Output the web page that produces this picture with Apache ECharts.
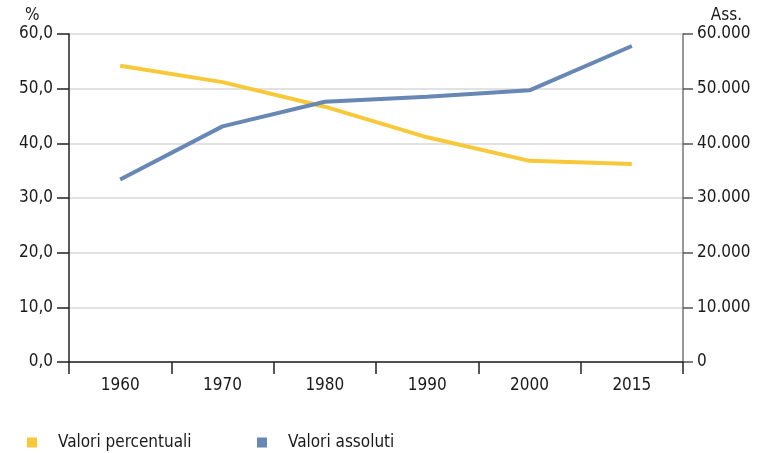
<!DOCTYPE html>
<html><head><meta charset="utf-8">
<script src="https://cdn.jsdelivr.net/npm/echarts@6/dist/echarts.min.js"></script>
<style>html,body{margin:0;padding:0;background:#fff}#c{width:758px;height:453px}</style>
</head><body><div id="c"></div>
<script>
const categories = ['1960','1970','1980','1990','2000','2015'];
const valoriPercentuali = [54.2, 51.2, 46.7, 41.1, 36.8, 36.2];
const valoriAssoluti = [33400, 43100, 47600, 48500, 49700, 57800];
const seriesNames = ['Valori percentuali', 'Valori assoluti'];
const leftAxisTitle = '%';
const rightAxisTitle = 'Ass.';

const FONT = '"Liberation Sans Narrow", "DejaVu Sans Condensed", "Roboto", sans-serif';
const YELLOW = '#f7c93a';
const BLUE = '#6787b4';
const chart = echarts.init(document.getElementById('c'));
chart.setOption({
  animation: false,
  textStyle: { fontFamily: FONT },
  grid: { left: 69, right: 75, top: 34, bottom: 91 },
  legend: [
    { data: [seriesNames[0]], left: 22, top: 429, icon: 'rect', itemWidth: 10, itemHeight: 10,
      textStyle: { fontFamily: FONT, fontSize: 17, color: '#1a1a1a', padding: [0, 0, 0, 16] } },
    { data: [seriesNames[1]], left: 252, top: 429, icon: 'rect', itemWidth: 10, itemHeight: 10,
      textStyle: { fontFamily: FONT, fontSize: 17, color: '#1a1a1a', padding: [0, 0, 0, 16] } }
  ],
  graphic: [
    { type: 'text', left: 25, top: 7, style: { text: leftAxisTitle, font: '17px ' + FONT, fill: '#1a1a1a' } },
    { type: 'text', right: 16, top: 7, style: { text: rightAxisTitle, font: '17px ' + FONT, fill: '#1a1a1a' } }
  ],
  xAxis: {
    type: 'category', data: categories, boundaryGap: true,
    axisLine: { lineStyle: { color: '#222', width: 1.5 } },
    axisTick: { show: true, length: 12, inside: false, lineStyle: { color: '#222', width: 1.5 } },
    axisLabel: { color: '#1a1a1a', fontSize: 17, fontFamily: FONT, margin: 15 }
  },
  yAxis: [
    { type: 'value', min: 0, max: 60, interval: 10, position: 'left',
      axisLine: { show: true, lineStyle: { color: '#222', width: 1.5 } },
      axisTick: { show: true, length: 12, lineStyle: { color: '#222', width: 1.5 } },
      axisLabel: { color: '#1a1a1a', fontSize: 17, fontFamily: FONT, margin: 16,
        formatter: v => v.toFixed(1).replace('.', ',') },
      splitLine: { show: true, lineStyle: { color: '#d8d8d8', width: 1.5 } } },
    { type: 'value', min: 0, max: 60000, interval: 10000, position: 'right',
      axisLine: { show: true, lineStyle: { color: '#777', width: 1.5 } },
      axisTick: { show: true, length: 10, lineStyle: { color: '#555', width: 1.5 } },
      axisLabel: { color: '#1a1a1a', fontSize: 17, fontFamily: FONT, margin: 14,
        formatter: v => v === 0 ? '0' : (v / 1000) + '.000' },
      splitLine: { show: false } }
  ],
  series: [
    { name: seriesNames[0], type: 'line', data: valoriPercentuali, yAxisIndex: 0,
      showSymbol: false, symbol: 'none', color: YELLOW, lineStyle: { color: YELLOW, width: 4 } },
    { name: seriesNames[1], type: 'line', data: valoriAssoluti, yAxisIndex: 1,
      showSymbol: false, symbol: 'none', color: BLUE, lineStyle: { color: BLUE, width: 4 } }
  ]
});
</script></body></html>
